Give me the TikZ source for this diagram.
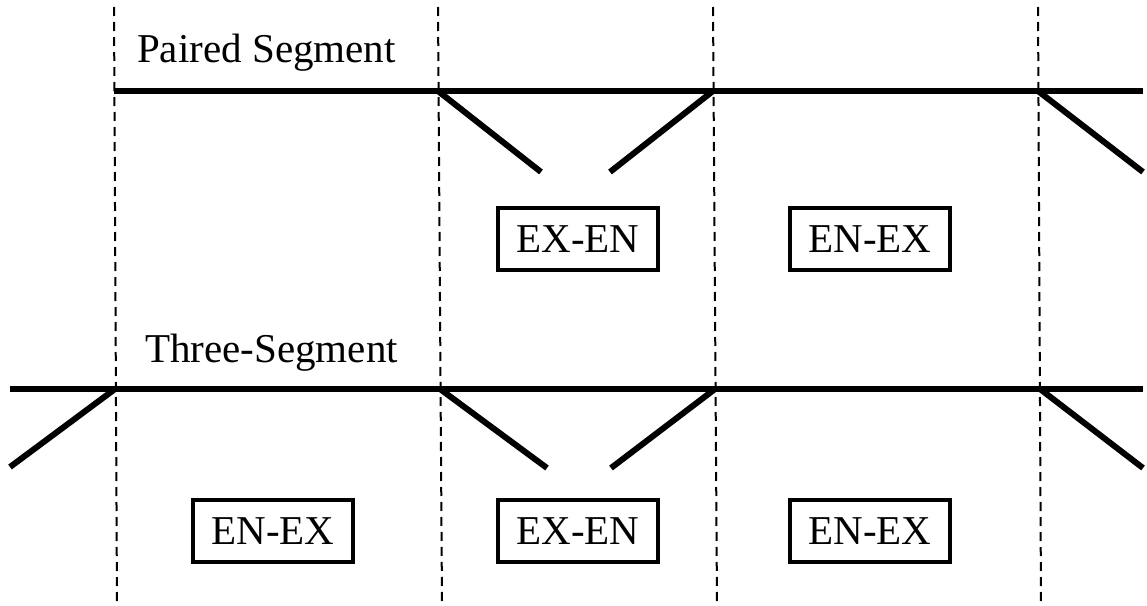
\documentclass[tikz,border=0pt]{standalone}
\usepackage{fontspec}
\setmainfont{Liberation Serif}
\begin{document}
\begin{tikzpicture}[x=1pt,y=-1pt,
  guide/.style={line width=2pt, dash pattern=on 9pt off 6pt},
  track/.style={line width=6pt},
  branch/.style={line width=6pt},
  tag/.style={draw, line width=3.5pt, minimum width=160pt, minimum height=62pt, inner sep=0pt, font=\fontsize{41}{46}\selectfont},
  title/.style={anchor=base west, inner sep=0pt, font=\fontsize{41}{46}\selectfont}]
\useasboundingbox (0,0) rectangle (1147,605);
% dashed guides
\coordinate (g1t) at (114,7);  \coordinate (g1b) at (117,605);
\coordinate (g2t) at (438,7);  \coordinate (g2b) at (442,605);
\coordinate (g3t) at (713,7);  \coordinate (g3b) at (717,605);
\coordinate (g4t) at (1038,7); \coordinate (g4b) at (1041,605);
\draw[guide] (g1t) -- (g1b);
\draw[guide] (g2t) -- (g2b);
\draw[guide] (g3t) -- (g3b);
\draw[guide] (g4t) -- (g4b);
% top
\node[title] (t1) at (137,62) {Paired Segment};
\coordinate (a0) at (114,91); \coordinate (a1) at (438,91);
\coordinate (a2) at (713,91); \coordinate (a3) at (1038,91); \coordinate (a4) at (1143,91);
\draw[track] (a0) -- (a4);
\coordinate (b1) at (541,172); \coordinate (b2) at (610,172); \coordinate (b3) at (1143,172);
\draw[branch] (a1) -- (b1);
\draw[branch] (b2) -- (a2);
\draw[branch] (a3) -- (b3);
\node[tag] (n1) at (578,239) {EX-EN};
\node[tag] (n2) at (870,239) {EN-EX};
% bottom
\node[title] (t2) at (145,362) {Three-Segment};
\coordinate (c0) at (10,389); \coordinate (c1) at (115,389); \coordinate (c2) at (440,389);
\coordinate (c3) at (715,389); \coordinate (c4) at (1040,389); \coordinate (c5) at (1143,389);
\draw[track] (c0) -- (c5);
\coordinate (d0) at (10,467); \coordinate (d1) at (547,468); \coordinate (d2) at (611,468); \coordinate (d3) at (1143,468);
\draw[branch] (c1) -- (d0);
\draw[branch] (c2) -- (d1);
\draw[branch] (d2) -- (c3);
\draw[branch] (c4) -- (d3);
\node[tag] (m1) at (273,531) {EN-EX};
\node[tag] (m2) at (578,531) {EX-EN};
\node[tag] (m3) at (870,531) {EN-EX};
\end{tikzpicture}
\end{document}
